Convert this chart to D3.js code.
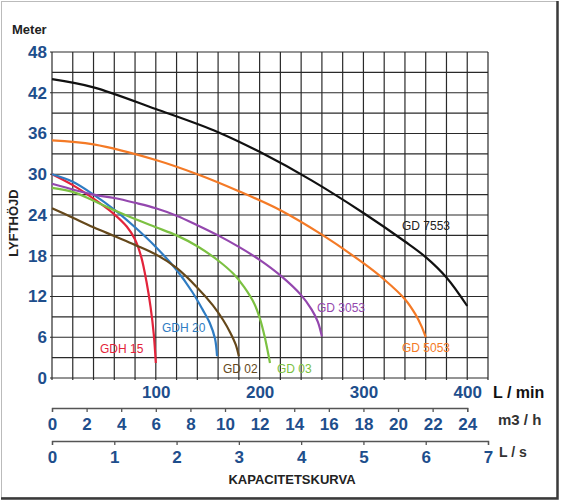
<!DOCTYPE html>
<html>
<head>
<meta charset="utf-8">
<script src="https://cdn.jsdelivr.net/npm/d3@7"></script>
<style>
	body { margin: 0; background: #fff; }
	text { font-family: "Liberation Sans", Arial, sans-serif; }
</style>
</head>
<body>
<script>
// capacity curves, flow in L/min, head in metres
var gdh15Flow = [0, 20, 40, 60, 72, 80, 86, 91, 95, 98, 100];
var gdh15Head = [30, 28.4, 26.4, 24.1, 22.3, 20.4, 17.8, 14.2, 10.4, 6.5, 2.2];

var gdh20Flow = [0, 20, 40, 60, 80, 100, 120, 135, 145, 152, 157, 159];
var gdh20Head = [30, 28.9, 27, 24.8, 22.2, 19.3, 15.9, 12.7, 10.1, 8.1, 5.8, 3.2];

var gd02Flow = [0, 20, 40, 60, 80, 100, 120, 140, 155, 165, 172, 177, 180];
var gd02Head = [25, 23.6, 22.2, 20.9, 19.6, 18.2, 16.2, 13.3, 10.7, 8.5, 6.6, 4.9, 3.2];

var gd03Flow = [0, 20, 40, 60, 80, 100, 120, 140, 160, 175, 185, 195, 200, 205, 210];
var gd03Head = [28, 27.4, 26.1, 24.7, 23.4, 22.2, 21, 19.4, 17.3, 15.3, 13.4, 10.9, 8.9, 6, 2.2];

var gd3053Flow = [0, 40, 60, 80, 100, 120, 140, 160, 180, 200, 220, 240, 250, 256, 260];
var gd3053Head = [28.6, 27, 26.5, 25.8, 25, 23.9, 22.5, 21, 19.3, 17.4, 15.1, 12.2, 10.1, 8.3, 6.1];

var gd5053Flow = [0, 40, 100, 140, 180, 220, 260, 300, 320, 340, 350, 356, 360];
var gd5053Head = [35, 34.4, 32.1, 30, 27.5, 24.7, 21.1, 16.9, 14.5, 11.6, 9.4, 7.6, 6];

var gd7553Flow = [0, 40, 100, 160, 200, 250, 300, 340, 360, 380, 400];
var gd7553Head = [44, 42.8, 39.6, 36.2, 33.3, 29.1, 24.3, 20.1, 17.8, 14.8, 10.6];

var headTicks = [0, 6, 12, 18, 24, 30, 36, 42, 48];
var flowTicks = [100, 200, 300, 400];
var m3hTicks = [0, 2, 4, 6, 8, 10, 12, 14, 16, 18, 20, 22, 24];
var lsTicks = [0, 1, 2, 3, 4, 5, 6, 7];

var blue = '#1e4e8c';

var canvas = d3.select('body')
		.append('svg')
		.attr('width', 561)
		.attr('height', 503);

// frame
canvas.append('rect')
		.attr('x', 1.5).attr('y', 1.5)
		.attr('width', 556).attr('height', 496)
		.attr('fill', 'none')
		.attr('stroke', '#bbb')
		.attr('stroke-width', 1);
canvas.append('path')
		.attr('d', 'M557.5,1V498.5H1')
		.attr('fill', 'none')
		.attr('stroke', '#3a3a3a')
		.attr('stroke-width', 2.5);

var x = d3.scaleLinear()
	.domain([0, 420])
	.range([52, 488]);

var y = d3.scaleLinear()
	.domain([0, 48])
	.range([378, 52]);

// grid
canvas.append('g').selectAll('line')
		.data(d3.range(0, 421, 20))
		.enter().append('line')
		.attr('x1', function(d) { return x(d); })
		.attr('x2', function(d) { return x(d); })
		.attr('y1', y(48))
		.attr('y2', y(0) + 2)
		.attr('stroke', '#2a2a2a')
		.attr('stroke-width', 1.2);

canvas.append('g').selectAll('line')
		.data(d3.range(0, 49, 3))
		.enter().append('line')
		.attr('x1', function(d) { return d % 6 == 0 ? x(0) - 2 : x(0); })
		.attr('x2', x(420))
		.attr('y1', function(d) { return y(d); })
		.attr('y2', function(d) { return y(d); })
		.attr('stroke', '#2a2a2a')
		.attr('stroke-width', 1.2);

// axes
var yAxis = canvas.append('g')
		.attr('transform', 'translate(' + x(0) + ',0)')
		.call(d3.axisLeft(y).tickValues(headTicks).tickSize(0).tickPadding(5));

var xAxis = canvas.append('g')
		.attr('transform', 'translate(0,' + y(0) + ')')
		.call(d3.axisBottom(x).tickValues(flowTicks).tickSize(0).tickPadding(8));

[yAxis, xAxis].forEach(function(a) {
	a.select('.domain').remove();
});

var xm3 = d3.scaleLinear()
	.domain([0, 24])
	.range([x(0), x(400)]);

var xls = d3.scaleLinear()
	.domain([0, 7])
	.range([x(0), x(420)]);

var m3Axis = canvas.append('g')
		.attr('transform', 'translate(0,408)')
		.call(d3.axisBottom(xm3).tickValues(m3hTicks).tickFormat(d3.format('d')).tickSize(4).tickPadding(6));

var lsAxis = canvas.append('g')
		.attr('transform', 'translate(0,441)')
		.call(d3.axisBottom(xls).tickValues(lsTicks).tickFormat(d3.format('d')).tickSize(4).tickPadding(6));

[yAxis, xAxis, m3Axis, lsAxis].forEach(function(a) {
	a.selectAll('text')
		.attr('fill', blue)
		.style('font-size', '17px')
		.style('font-weight', 'bold')
		.style('font-family', '"Liberation Sans", Arial, sans-serif');
	a.selectAll('path, line')
		.attr('stroke', '#555')
		.attr('stroke-width', 1.3);
});

// curves
var series = [
	{ name: 'GDH 15', flow: gdh15Flow, head: gdh15Head, color: '#e3243b', lx: 100, ly: 349 },
	{ name: 'GDH 20', flow: gdh20Flow, head: gdh20Head, color: '#2f7cc3', lx: 162, ly: 328 },
	{ name: 'GD 02', flow: gd02Flow, head: gd02Head, color: '#65481b', lx: 223, ly: 369 },
	{ name: 'GD 03', flow: gd03Flow, head: gd03Head, color: '#7cc142', lx: 277, ly: 369 },
	{ name: 'GD 3053', flow: gd3053Flow, head: gd3053Head, color: '#9447ae', lx: 317, ly: 308 },
	{ name: 'GD 5053', flow: gd5053Flow, head: gd5053Head, color: '#f47a26', lx: 402, ly: 348 },
	{ name: 'GD 7553', flow: gd7553Flow, head: gd7553Head, color: '#111', lx: 402, ly: 226 }
];

var line = d3.line()
	.x(function(d) { return x(d[0]); })
	.y(function(d) { return y(d[1]); })
	.curve(d3.curveCatmullRom.alpha(0.5));

canvas.append('g').selectAll('path')
		.data(series)
		.enter().append('path')
		.attr('d', function(d) {
			return line(d.flow.map(function(q, i) { return [q, d.head[i]]; }));
		})
		.attr('fill', 'none')
		.attr('stroke', function(d) { return d.color; })
		.attr('stroke-width', 2.2);

canvas.append('g').selectAll('text')
		.data(series)
		.enter().append('text')
		.attr('x', function(d) { return d.lx; })
		.attr('y', function(d) { return d.ly; })
		.attr('dy', '0.35em')
		.attr('fill', function(d) { return d.name == 'GD 7553' ? '#222' : d.color; })
		.style('font-size', '12px')
		.text(function(d) { return d.name; });

// titles
function label(t, px, py, size, col) {
	return canvas.append('text')
		.attr('x', px)
		.attr('y', py)
		.attr('dy', '0.35em')
		.attr('fill', col || '#222')
		.style('font-size', size + 'px')
		.style('font-weight', 'bold')
		.text(t);
}

label('Meter', 12, 29, 13);
label('L / min', 493, 392, 16, '#111');
label('m3 / h', 498, 420, 15, '#333');
label('L / s', 499, 452, 14, '#333');
label('KAPACITETSKURVA', 292, 479, 13).attr('text-anchor', 'middle');
label('LYFTHÖJD', 0, 0, 13)
		.attr('text-anchor', 'middle')
		.attr('transform', 'translate(13,223) rotate(-90)');
</script>
</body>
</html>
